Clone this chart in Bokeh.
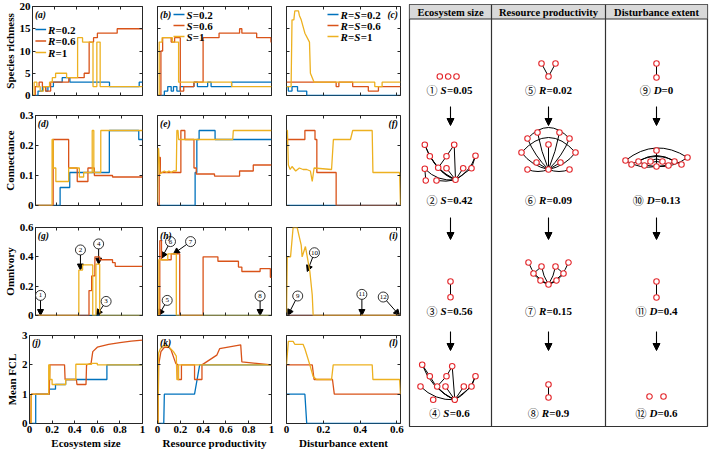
from bokeh.plotting import figure
from bokeh.models import (Range1d, FixedTicker, LinearAxis, CustomJSTickFormatter,
                          Arrow, NormalHead, Label)
from bokeh.layouts import row, column
from bokeh.embed import file_html
from bokeh.resources import INLINE
from bokeh.core.properties import value

BLUE, ORANGE, YELLOW = "#0072BD", "#D95319", "#EDB120"
SERIF = "Liberation Serif"
AX = "#262626"
NODE_RED = "#e3262b"

# ---------------- data: species richness ----------------
a_r02_x = [0, 0.05, 0.09, 0.12, 0.14, 0.19, 0.27, 0.34, 0.70, 0.97, 1]
a_r02_y = [0, 1, 2, 1, 2, 3, 4, 3, 2, 3, 3]
a_r06_x = [0, 0.025, 0.06, 0.09, 0.12, 0.165, 0.33, 0.47, 0.515, 0.555, 0.59, 0.77, 1]
a_r06_y = [0, 2, 3, 2, 1, 3, 4, 5, 12, 13, 14, 15, 15]
a_r1_x = [0, 0.015, 0.04, 0.07, 0.1, 0.155, 0.18, 0.21, 0.31, 0.41, 0.455, 0.55, 0.585, 0.615, 1]
a_r1_y = [0, 3, 2, 1, 2, 3, 4, 5, 4, 13, 12, 2, 12, 2, 2]

b_s02_x = [0, 0.06, 0.09, 0.12, 0.14, 0.17, 0.2, 0.32, 0.35, 0.44, 0.47, 0.65, 1]
b_s02_y = [0, 1, 2, 1, 2, 1, 2, 3, 2, 3, 2, 3, 3]
b_s06_x = [0, 0.03, 0.045, 0.12, 0.15, 0.2, 0.23, 0.32, 0.4, 0.54, 0.72, 0.74, 0.87, 0.995, 1]
b_s06_y = [0, 10, 13, 12, 13, 1, 2, 3, 13, 14, 15, 14, 13, 12, 12]
b_s1_x = [0, 0.015, 0.04, 0.13, 0.185, 0.65, 1]
b_s1_y = [0, 12, 13, 12, 3, 2, 2]

c_02_x = [0, 0.01, 0.03, 0.06, 0.11, 0.62]
c_02_y = [2, 1, 2, 1, 0, 0]
c_06_x = [0, 0.27, 0.285, 0.36, 0.445, 0.5, 0.62]
c_06_y = [3, 2, 3, 2, 1, 2, 2]
c_1_x = [0, 0.025, 0.03, 0.04, 0.045, 0.065, 0.07, 0.08, 0.1, 0.125, 0.13, 0.14, 0.15, 0.48, 0.48, 0.52, 0.52, 0.62]
c_1_y = [2, 2, 17, 17, 19, 19, 18, 17, 14, 12, 5, 4, 3, 3, 2, 2, 3, 3]

# ---------------- data: connectance ----------------
d_02_x = [0, 0.23, 0.32, 0.69, 0.965, 1]
d_02_y = [0, 0.06, 0.11, 0.25, 0.22, 0.22]
d_06_x = [0, 0.165, 0.31, 0.39, 0.49, 0.55, 0.72, 1]
d_06_y = [0, 0.22, 0.125, 0.08, 0.125, 0.1, 0.095, 0.095]
d_1_x = [0, 0.155, 0.165, 0.19, 0.31, 0.41, 0.45, 0.53, 0.545, 0.61, 1]
d_1_y = [0, 0.22, 0.125, 0.08, 0.125, 0.095, 0.11, 0.25, 0.11, 0.25, 0.25]

e_02_x = [0, 0.33, 0.345, 0.365, 0.505, 1]
e_02_y = [0, 0.11, 0.22, 0.25, 0.22, 0.22]
e_06_x = [0, 0.015, 0.025, 0.205, 0.24, 0.32, 0.34, 0.5, 0.72, 0.84, 1]
e_06_y = [0, 0.16, 0.11, 0.25, 0.22, 0.125, 0.105, 0.098, 0.115, 0.135, 0.135]
e_1_x = [0, 0.005, 0.01, 0.02, 0.04, 0.06, 0.08, 0.1, 0.12, 0.14, 0.165, 0.17, 0.18, 0.185, 0.66, 0.665, 1]
e_1_y = [0, 0.19, 0.19, 0.105, 0.11, 0.115, 0.11, 0.115, 0.11, 0.115, 0.115, 0.25, 0.25, 0.22, 0.22, 0.25, 0.25]

f_02_x = [0, 0.62]
f_02_y = [0, 0]
f_06_x = [0, 0.1, 0.155, 0.165, 0.27, 0.62]
f_06_y = [0.22, 0.25, 0.22, 0.11, 0, 0]
f_1_x = [0, 0.005, 0.01, 0.02, 0.03, 0.05, 0.07, 0.09, 0.11, 0.13, 0.14, 0.15, 0.245, 0.255,
         0.348, 0.36, 0.466, 0.47, 0.615, 0.62]
f_1_y = [0.25, 0.25, 0.135, 0.12, 0.13, 0.115, 0.125, 0.12, 0.12, 0.115, 0.08, 0.125, 0.12, 0.22,
         0.22, 0.25, 0.25, 0.11, 0.11, 0]

# ---------------- data: omnivory ----------------
g_02_x = [0, 1]
g_02_y = [0, 0]
g_06_x = [0, 0.5, 0.525, 0.555, 0.6, 0.72, 0.745, 1]
g_06_y = [0, 0.17, 0.27, 0.40, 0.38, 0.36, 0.335, 0.335]
g_1_x = [0, 0.405, 0.44, 0.535, 0.565, 0.6, 1]
g_1_y = [0, 0.31, 0.345, 0, 0.35, 0, 0]

h_02_x = [0, 1]
h_02_y = [0, 0]
h_06_x = [0, 0.02, 0.035, 0.12, 0.195, 0.4, 0.53, 0.71, 0.74, 0.9, 0.99, 1]
h_06_y = [0, 0.51, 0.38, 0.42, 0, 0.4, 0.37, 0.33, 0.3, 0.32, 0.26, 0.26]
h_1_x = [0, 0.012, 0.09, 0.165, 1]
h_1_y = [0, 0.38, 0.42, 0, 0]

i_02_x = [0, 0.62]
i_02_y = [0, 0]
i_06_x = [0, 0.62]
i_06_y = [0, 0]
i_1_x = [0, 0.004, 0.022, 0.036, 0.058, 0.067, 0.08, 0.085, 0.103, 0.127, 0.14, 0.145, 0.62]
i_1_y = [0, 0.4, 0.4, 0.6, 0.6, 0.55, 0.48, 0.4, 0.47, 0.3, 0.14, 0, 0]

# ---------------- data: mean food-chain length ----------------
j_02_x = [0, 0.055, 0.175, 0.23, 0.32, 0.685, 1]
j_02_y = [0, 1, 1.17, 1.33, 1.5, 2, 2]
j_06_x = [0, 0.012, 0.015, 0.175, 0.18, 0.31, 0.315, 0.415, 0.42, 0.5, 0.505, 0.545, 0.56, 0.6, 0.7, 0.8, 0.9, 1]
j_06_y = [0, 0, 1, 1, 2, 2, 1.5, 1.5, 1.33, 1.33, 2, 2.05, 2.45, 2.6, 2.7, 2.76, 2.81, 2.84]
j_1_x = [0, 0.015, 0.17, 0.18, 0.2, 0.32, 0.41, 0.55, 0.6, 1]
j_1_y = [0, 1, 2, 1.5, 1.33, 1.5, 2.02, 2.05, 2, 2]

k_02_x = [0, 0.055, 0.06, 0.325, 0.37, 1]
k_02_y = [0, 0, 1, 1, 2, 2]
k_06_x = [0, 0.005, 0.01, 0.03, 0.06, 0.1, 0.12, 0.16, 0.18, 0.18, 0.21, 0.21, 0.325, 0.325,
          0.39, 0.39, 0.52, 0.545, 0.73, 0.74, 1]
k_06_y = [0, 0, 2, 2.45, 2.6, 2.6, 2.5, 2.05, 2, 1.5, 1.5, 2, 2, 1.5, 1.5, 2, 2.33, 2.55, 2.68, 2.1, 2]
k_1_x = [0, 0.005, 0.01, 0.025, 0.05, 0.09, 0.14, 0.165, 0.17, 0.185, 0.185, 1]
k_1_y = [0, 0, 2.4, 2.55, 2.65, 2.65, 2.45, 2.3, 1.5, 1.5, 2, 2]

l_02_x = [0, 0.1, 0.11, 0.62]
l_02_y = [1, 1, 0, 0]
l_06_x = [0, 0.14, 0.15, 0.25, 0.26, 0.62]
l_06_y = [2, 2, 1.5, 1.5, 1, 1]
l_1_x = [0, 0.01, 0.036, 0.045, 0.09, 0.1, 0.127, 0.145, 0.163, 0.245, 0.254, 0.466, 0.47, 0.615, 0.62]
l_1_y = [2, 2.8, 2.8, 2.7, 2.7, 2.55, 2, 1.6, 1.5, 1.5, 2, 2, 1.5, 1.5, 1]

# ---------------- labelled snapshots on the omnivory panels ----------------
g_mark_num = ["1", "2", "3", "4"]
g_mark_x = [0.047, 0.42, 0.66, 0.59]
g_mark_y = [0.137, 0.447, 0.096, 0.488]
g_tip_x = [0.047, 0.42, 0.57, 0.59]
g_tip_y = [0.0, 0.31, 0.0, 0.35]

h_mark_num = ["5", "6", "7", "8"]
h_mark_x = [0.085, 0.114, 0.29, 0.9]
h_mark_y = [0.103, 0.504, 0.504, 0.133]
h_tip_x = [0.01, 0.035, 0.14, 0.9]
h_tip_y = [0.0, 0.39, 0.42, 0.0]

i_mark_num = ["9", "10", "11", "12"]
i_mark_x = [0.061, 0.152, 0.41, 0.526]
i_mark_y = [0.133, 0.428, 0.144, 0.126]
i_tip_x = [0.007, 0.113, 0.41, 0.615]
i_tip_y = [0.0, 0.3, 0.0, 0.0]

# ---------------- axes set-up ----------------
row_titles = ["Species richness", "Connectance", "Omnivory", "Mean FCL"]
row_ymax = [20, 0.3, 0.6, 3]
row_yticks = [[0, 5, 10, 15, 20], [0, 0.1, 0.2, 0.3], [0, 0.2, 0.4, 0.6], [0, 1, 2, 3]]
col_titles = ["Ecosystem size", "Resource productivity", "Disturbance extent"]
col_xmax = [1, 1, 0.62]
col_xticks = [[0, 0.2, 0.4, 0.6, 0.8, 1], [0, 0.2, 0.4, 0.6, 0.8, 1], [0, 0.2, 0.4, 0.6]]
legend_labels = [["R=0.2", "R=0.6", "R=1"], ["S=0.2", "S=0.6", "S=1"], ["R=S=0.2", "R=S=0.6", "R=S=1"]]
# legend anchor inside each top panel: line start (px from frame left) and first row (px from frame top)
legend_anchor = [(3, 23, 11.5), (16, 8, 11), (41, 8, 11)]

col_left = [29, 8, 8]
col_frame = [113, 114, 114]
col_right = 7
row_top = [6, 10, 11, 10]
row_frame = [89, 90, 88, 90]
row_bottom = [10, 11, 10, 26]

series = [
    [(a_r02_x, a_r02_y, "step"), (a_r06_x, a_r06_y, "step"), (a_r1_x, a_r1_y, "step")],
    [(b_s02_x, b_s02_y, "step"), (b_s06_x, b_s06_y, "step"), (b_s1_x, b_s1_y, "step")],
    [(c_02_x, c_02_y, "step"), (c_06_x, c_06_y, "step"), (c_1_x, c_1_y, "line")],
    [(d_02_x, d_02_y, "step"), (d_06_x, d_06_y, "step"), (d_1_x, d_1_y, "step")],
    [(e_02_x, e_02_y, "step"), (e_06_x, e_06_y, "step"), (e_1_x, e_1_y, "line")],
    [(f_02_x, f_02_y, "step"), (f_06_x, f_06_y, "step"), (f_1_x, f_1_y, "line")],
    [(g_02_x, g_02_y, "step"), (g_06_x, g_06_y, "step"), (g_1_x, g_1_y, "step")],
    [(h_02_x, h_02_y, "step"), (h_06_x, h_06_y, "step"), (h_1_x, h_1_y, "step")],
    [(i_02_x, i_02_y, "step"), (i_06_x, i_06_y, "step"), (i_1_x, i_1_y, "line")],
    [(j_02_x, j_02_y, "step"), (j_06_x, j_06_y, "line"), (j_1_x, j_1_y, "step")],
    [(k_02_x, k_02_y, "line"), (k_06_x, k_06_y, "line"), (k_1_x, k_1_y, "line")],
    [(l_02_x, l_02_y, "line"), (l_06_x, l_06_y, "line"), (l_1_x, l_1_y, "line")],
]
markers = {6: (g_mark_num, g_mark_x, g_mark_y, g_tip_x, g_tip_y),
           7: (h_mark_num, h_mark_x, h_mark_y, h_tip_x, h_tip_y),
           8: (i_mark_num, i_mark_x, i_mark_y, i_tip_x, i_tip_y)}
panel_letters = "abcdefghijkl"
fmt = CustomJSTickFormatter(code="return tick.toString();")

# approximate advance widths (em) of bold Times-like glyphs, for laying out mixed-style labels
EM = {"R": 0.69, "S": 0.57, "D": 0.72, "=": 0.57, ".": 0.25}


def split_symbols(s):
    """Split a label such as 'R=S=0.2' into (text, italic) runs."""
    runs = []
    for ch in s:
        it = ch.isalpha()
        if runs and runs[-1][1] == it:
            runs[-1][0] += ch
        else:
            runs.append([ch, it])
    return runs


def run_width(txt, size):
    return sum(EM.get(ch, 0.5) for ch in txt) * size


def style_axis(ax, ticks, show_labels):
    ax.ticker = FixedTicker(ticks=ticks)
    ax.formatter = fmt
    ax.axis_line_color = None
    ax.major_tick_in = 3
    ax.major_tick_out = 0
    ax.major_tick_line_color = AX
    ax.minor_tick_line_color = None
    ax.major_label_text_font = SERIF
    ax.major_label_text_font_style = "bold"
    if show_labels:
        ax.major_label_text_color = "black"
        ax.major_label_text_font_size = "11px"
        ax.major_label_standoff = 2
    else:
        ax.major_label_text_color = None
        ax.major_label_text_font_size = "0px"
        ax.major_label_standoff = 0
    ax.axis_label_text_font = SERIF
    ax.axis_label_text_font_style = "bold"
    ax.axis_label_text_font_size = "11px"
    ax.axis_label_text_color = "black"
    ax.axis_label_standoff = 1


def make_panel(ri, ci):
    k = ri * 3 + ci
    xmax, ymax = col_xmax[ci], row_ymax[ri]
    fw, fh = col_frame[ci], row_frame[ri]

    def px(xp, yp):
        return xmax * xp / fw, ymax * (1 - yp / fh)

    p = figure(width=col_left[ci] + fw + col_right,
               height=row_top[ri] + fh + row_bottom[ri],
               x_range=Range1d(0, xmax), y_range=Range1d(0, ymax),
               toolbar_location=None, output_backend="svg",
               min_border_left=col_left[ci], min_border_right=col_right,
               min_border_top=row_top[ri], min_border_bottom=row_bottom[ri])
    p.background_fill_color = "white"
    p.border_fill_color = "white"
    p.outline_line_color = AX
    p.outline_line_width = 1
    p.xgrid.visible = False
    p.ygrid.visible = False
    style_axis(p.xaxis[0], col_xticks[ci], ri == 3)
    style_axis(p.yaxis[0], row_yticks[ri], ci == 0)
    if ri == 3:
        p.xaxis[0].axis_label = col_titles[ci]
    if ci == 0:
        p.yaxis[0].axis_label = row_titles[ri]
    top_ax = LinearAxis()
    style_axis(top_ax, col_xticks[ci], False)
    p.add_layout(top_ax, "above")
    right_ax = LinearAxis()
    style_axis(right_ax, row_yticks[ri], False)
    p.add_layout(right_ax, "right")

    colours = [BLUE, ORANGE, YELLOW]
    for (xs, ys, kind), colr in zip(series[k], colours):
        if kind == "step":
            p.step(xs, ys, mode="after", line_color=colr, line_width=1.3)
        else:
            p.line(xs, ys, line_color=colr, line_width=1.3)

    if ri == 0:
        x0p, y0p, dy = legend_anchor[ci]
        for n, (lab, colr) in enumerate(zip(legend_labels[ci], colours)):
            yp = y0p + n * dy
            xa, ya = px(x0p, yp)
            xb, _ = px(x0p + 11, yp)
            p.segment(x0=[xa], y0=[ya], x1=[xb], y1=[ya], line_color=colr, line_width=1.3)
            cursor = x0p + 13
            for txt, it in split_symbols(lab):
                xt, yt = px(cursor, yp)
                p.text(x=[xt], y=[yt], text=[txt], text_font=value(SERIF), text_font_size="11px",
                       text_font_style="bold italic" if it else "bold",
                       text_align="left", text_baseline="middle", text_color="black")
                cursor += run_width(txt, 11)

    if k in markers:
        nums, mx, my, tx, ty = markers[k]
        for x0, y0, x1, y1 in zip(mx, my, tx, ty):
            p.add_layout(Arrow(x_start=x0, y_start=y0, x_end=x1, y_end=y1,
                               line_color="black", line_width=1, level="underlay",
                               end=NormalHead(size=6, fill_color="black", line_color="black")))
        p.scatter(mx, my, size=10, fill_color="white", line_color="black", line_width=0.8)
        p.text(mx, my, text=nums, text_font=value(SERIF), text_font_size="7px",
               text_align="center", text_baseline="middle", text_color="black")

    # panel letter
    if ci == 2:
        lx, ly = px(fw - 2.5, 8)
        align = "right"
    else:
        lx, ly = px(2.5, 8)
        align = "left"
    lab = Label(x=lx, y=ly, text="(%s)" % panel_letters[k], text_align=align, text_baseline="middle")
    lab.text_font = SERIF
    lab.text_font_size = "9.5px"
    lab.text_font_style = "bold italic"
    lab.text_color = "black"
    p.add_layout(lab)
    return p


rows = [row([make_panel(ri, ci) for ci in range(3)], spacing=0) for ri in range(4)]
left_block = column(rows, spacing=0)

# ---------------- food-web snapshots ----------------
W_PANEL, H_PANEL = 298, 422
q = figure(width=302, height=451, x_range=Range1d(0, W_PANEL), y_range=Range1d(H_PANEL, 0),
           toolbar_location=None, output_backend="svg", x_axis_location=None, y_axis_location=None,
           min_border_left=2, min_border_right=2, min_border_top=4, min_border_bottom=25)
q.xgrid.visible = False
q.ygrid.visible = False
q.outline_line_color = "#333333"
q.outline_line_width = 1.2
q.background_fill_color = "white"
q.border_fill_color = "white"

col_center = [40, 139, 247]
header_h = 14.5
q.quad(left=[0], right=[W_PANEL], top=[0], bottom=[header_h], fill_color="#d9d9d9", line_color=None)
q.segment(x0=[0, 82, 196], y0=[header_h, 0, 0], x1=[W_PANEL, 82, 196], y1=[header_h, H_PANEL, H_PANEL],
          line_color="#333333", line_width=1.2)
q.text(x=[41, 139, 247], y=[7.6] * 3, text=col_titles, text_font=value(SERIF),
       text_font_size="10.5px", text_font_style="bold", text_align="center",
       text_baseline="middle", text_color="black")

# node positions (x, y) and links (i, j, bend) for each snapshot
web_nodes = {
    1: [(30.3, 72), (38.7, 72), (47, 72)],
    2: [(15.3, 140.3), (44.7, 140.3), (20.3, 151.7), (37, 151.7), (66, 151.3), (28.7, 163.3),
        (37, 163.7), (53.7, 163.7), (62, 163.7), (15.3, 164.3), (16.3, 176), (27, 176), (46, 175.3)],
    3: [(41, 277), (41, 292.7)],
    4: [(12.7, 360.3), (42.7, 361.7), (20.3, 371.7), (37, 371.7), (66, 371.7), (27.7, 382),
        (36, 382), (54.3, 382), (62, 382), (11, 382), (23.7, 395.3), (45.3, 395.3)],
    5: [(132, 59), (146, 59), (139, 72)],
    6: [(112, 148), (118, 134), (128, 128), (150, 128), (160, 134), (166, 148), (127, 158),
        (139, 165), (151, 158), (118, 165), (160, 165), (139, 140)],
    7: [(119, 258), (124, 269), (131, 276), (139, 280), (147, 276), (154, 269), (159, 258),
        (132, 262), (146, 262)],
    8: [(139, 380), (139, 393)],
    9: [(247, 59), (247, 73)],
    10: [(216, 156), (222, 160), (229, 157), (235, 161), (241, 157), (247, 162), (253, 157),
         (259, 161), (265, 157), (272, 160), (278, 153), (247, 146)],
    11: [(247, 277), (247, 293)],
    12: [(240, 392), (254, 392)],
}
web_links = {
    1: [],
    2: [(0, 2, 0), (0, 12, 10), (2, 12, 6), (2, 5, 0), (3, 1, 0), (3, 5, 0), (1, 12, 0),
        (4, 8, 0), (4, 12, -6), (5, 12, 3), (6, 12, 0), (7, 12, 0), (8, 12, 0), (9, 12, 8),
        (9, 10, 0), (11, 12, 2)],
    3: [(0, 1, 0)],
    4: [(0, 2, 0), (0, 11, 10), (9, 11, 8), (2, 11, 6), (1, 3, 0), (1, 11, 0), (3, 5, 0),
        (5, 11, 3), (6, 11, 0), (7, 11, 0), (8, 11, 0), (4, 8, 0), (4, 11, -6)],
    5: [(0, 2, 0), (1, 2, 0)],
    6: [(0, 7, 6), (1, 7, 4), (2, 7, 2), (3, 7, -2), (4, 7, -4), (5, 7, -6), (6, 7, 0), (8, 7, 0),
        (9, 7, 4), (10, 7, -4), (11, 7, 0), (0, 5, -30), (1, 4, -22)],
    7: [(0, 3, 6), (1, 3, 3), (2, 3, 0), (4, 3, 0), (5, 3, -3), (6, 3, -6), (7, 3, 2), (8, 3, -2),
        (7, 1, 0), (8, 5, 0)],
    8: [(0, 1, 0)],
    9: [(0, 1, 0)],
    10: [(0, 10, -22), (1, 9, -16), (2, 8, -12), (3, 7, -8), (4, 6, -5), (11, 5, 0), (0, 5, 6),
         (10, 5, -6), (2, 5, 3), (8, 5, -3)],
    11: [(0, 1, 0)],
    12: [],
}
web_labels = [
    ("\u2460", "S", "=0.05", 0, 85), ("\u2461", "S", "=0.42", 0, 195),
    ("\u2462", "S", "=0.56", 0, 306), ("\u2463", "S", "=0.6", 0, 408),
    ("\u2464", "R", "=0.02", 1, 85), ("\u2465", "R", "=0.09", 1, 195),
    ("\u2466", "R", "=0.15", 1, 306), ("\u2467", "R", "=0.9", 1, 408),
    ("\u2468", "D", "=0", 2, 85), ("\u2469", "D", "=0.13", 2, 195),
    ("\u246a", "D", "=0.4", 2, 306), ("\u246b", "D", "=0.6", 2, 408),
]
step_arrows_y = [(102, 121), (213, 235), (327, 346)]

for key, nodes in web_nodes.items():
    for i, j, bend in web_links[key]:
        (xa, ya), (xb, yb) = nodes[i], nodes[j]
        dx, dy = xb - xa, yb - ya
        length = (dx * dx + dy * dy) ** 0.5 or 1
        cx = (xa + xb) / 2 - dy / length * bend
        cy = (ya + yb) / 2 + dx / length * bend
        q.quadratic(x0=[xa], y0=[ya], x1=[xb], y1=[yb], cx=[cx], cy=[cy],
                    line_color="black", line_width=1)
    q.scatter([n[0] for n in nodes], [n[1] for n in nodes], size=5.5, fill_color="white",
              line_color=NODE_RED, line_width=1.1)

for circ, letter, rest, ci, ly in web_labels:
    lw = run_width(letter, 11)
    total = 11 + 3 + lw + run_width(rest, 11)
    x0 = col_center[ci] - total / 2
    q.text(x=[x0], y=[ly], text=[circ], text_font=value("Noto Sans CJK JP"), text_font_size="11px",
           text_align="left", text_baseline="middle", text_color="black")
    q.text(x=[x0 + 14], y=[ly], text=[letter], text_font=value(SERIF), text_font_size="11px",
           text_font_style="bold italic", text_align="left", text_baseline="middle", text_color="black")
    q.text(x=[x0 + 14 + lw], y=[ly], text=[rest], text_font=value(SERIF), text_font_size="11px",
           text_font_style="bold", text_align="left", text_baseline="middle", text_color="black")

for ci in range(3):
    for ya, yb in step_arrows_y:
        q.add_layout(Arrow(x_start=[41, 139, 247][ci], y_start=ya, x_end=[41, 139, 247][ci], y_end=yb,
                           line_color="black", line_width=1.1,
                           end=NormalHead(size=7, fill_color="black", line_color="black")))

layout = row([left_block, q], spacing=0)
open("out.html", "w").write(file_html(layout, INLINE))
